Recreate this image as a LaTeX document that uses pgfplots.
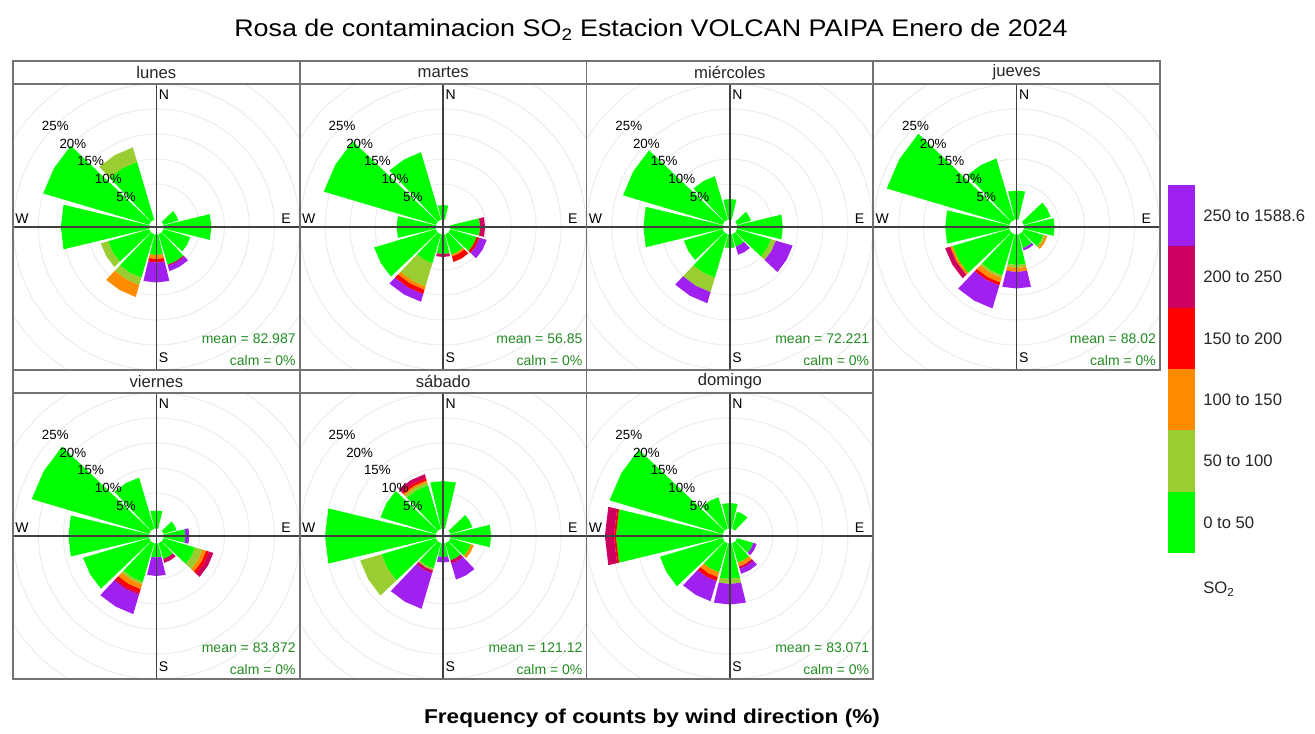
\documentclass[border=0pt]{standalone}
\usepackage{fontspec}
\setmainfont{Liberation Sans}
\newfontfamily\titlefont[FakeStretch=1.12]{Liberation Sans}
\newfontfamily\botfont[FakeStretch=1.13]{Liberation Sans}
\usepackage{pgfplots}
\pgfplotsset{compat=1.18}
\definecolor{ca}{HTML}{00FF00}
\definecolor{cb}{HTML}{9ACD32}
\definecolor{cc}{HTML}{FF8C00}
\definecolor{cd}{HTML}{FF0000}
\definecolor{ce}{HTML}{CD0060}
\definecolor{cf}{HTML}{A020F0}
\definecolor{meangreen}{HTML}{228B22}

% one stacked segment of a wedge: direction (deg from N, clockwise), from %, to %, colour
\newcommand{\seg}[4]{%
  \pgfmathsetmacro{\aA}{76.5-#1}%
  \pgfmathsetmacro{\aB}{90-#1}%
  \pgfmathsetmacro{\aC}{103.5-#1}%
  \pgfmathsetmacro{\rA}{(#2==0) ? 1.5 : 3.6+#2}%
  \pgfmathsetmacro{\rB}{3.6+#3}%
  \addplot[fill=#4, draw=none, data cs=polar] coordinates {(\aA,\rA) (\aB,\rA) (\aC,\rA) (\aC,\rB) (\aB,\rB) (\aA,\rB)};%
}
\newcommand{\panelbg}{%
  \draw[black!7, line width=0.8pt] (axis cs:0,0) circle[radius=8.6];
  \draw[black!7, line width=0.8pt] (axis cs:0,0) circle[radius=13.6];
  \draw[black!7, line width=0.8pt] (axis cs:0,0) circle[radius=18.6];
  \draw[black!7, line width=0.8pt] (axis cs:0,0) circle[radius=23.6];
  \draw[black!7, line width=0.8pt] (axis cs:0,0) circle[radius=28.6];
  \draw[black!7, line width=0.8pt] (axis cs:0,0) circle[radius=33.6];
}
\newcommand{\panelfg}[1]{%
  \draw[black!75, line width=1.3pt] (axis cs:0,-30) -- (axis cs:0,30);
  \draw[black!75, line width=1.3pt] (axis cs:-30,0) -- (axis cs:30,0);
  \node[font=\fontsize{10.5}{12}\selectfont, anchor=west, inner sep=1pt] at (axis cs:0.2,26.4) {N};
  \node[font=\fontsize{10.5}{12}\selectfont, anchor=west, inner sep=1pt] at (axis cs:0.2,-26.2) {S};
  \node[font=\fontsize{10.5}{12}\selectfont, anchor=south west, inner sep=1pt] at (axis cs:-28.5,0.3) {W};
  \node[font=\fontsize{10.5}{12}\selectfont, anchor=south east, inner sep=1pt] at (axis cs:27.2,0.3) {E};
  \node[font=\fontsize{10}{12}\selectfont] at (axis cs:-6.08,6.08) {5\%};
  \node[font=\fontsize{10}{12}\selectfont] at (axis cs:-9.62,9.62) {10\%};
  \node[font=\fontsize{10}{12}\selectfont] at (axis cs:-13.15,13.15) {15\%};
  \node[font=\fontsize{10}{12}\selectfont] at (axis cs:-16.69,16.69) {20\%};
  \node[font=\fontsize{10}{12}\selectfont] at (axis cs:-20.22,20.22) {25\%};
  \node[font=\fontsize{10.5}{12}\selectfont, text=meangreen, anchor=east, inner sep=0pt] at (axis cs:27.9,-22.3) {mean = #1};
  \node[font=\fontsize{10.5}{12}\selectfont, text=meangreen, anchor=east, inner sep=0pt] at (axis cs:27.9,-26.7) {calm = 0\%};
}
\pgfplotsset{rosepanel/.style={scale only axis, width=215.06pt, height=214.5pt,
  xmin=-28.675, xmax=28.675, ymin=-28.6, ymax=28.6, hide axis, anchor=south west}}
\newcommand{\panelframe}[3]{% left x, bottom Y, name
  \pgfmathsetmacro{\R}{#1+286.75}%
  \pgfmathsetmacro{\T}{#2+309}%
  \pgfmathsetmacro{\P}{#2+286}%
  \draw[black!55, line width=1.2pt] (#1,#2) rectangle (\R,\T);
  \draw[black!55, line width=1.2pt] (#1,\P) -- (\R,\P);
  \node[font=\fontsize{12.5}{14}\selectfont, text=black!85] at (#1+143.4,#2+297.5) {#3};
}

\begin{document}
\begin{tikzpicture}
\begin{scope}[x=0.75pt, y=0.75pt]
\useasboundingbox (0,0) rectangle (1315,733);
\end{scope}

% ---------------- lunes
\begin{axis}[rosepanel, at={({13*0.75pt},{363*0.75pt})}]
\panelbg
\seg{300}{0}{20}{ca}
\seg{330}{0}{10}{ca} \seg{330}{10}{13}{cb}
\seg{270}{0}{15.5}{ca}
\seg{240}{0}{6.5}{ca} \seg{240}{6.5}{8}{cb}
\seg{210}{0}{7}{ca} \seg{210}{7}{8.5}{cb} \seg{210}{8.5}{11}{cc}
\seg{180}{0}{2}{ca} \seg{180}{2}{2.8}{cc} \seg{180}{2.8}{3.5}{cd} \seg{180}{3.5}{7.5}{cf}
\seg{150}{0}{4.3}{ca} \seg{150}{4.3}{4.6}{ce} \seg{150}{4.6}{5.6}{cf}
\seg{120}{0}{3.5}{ca}
\seg{90}{0}{7.4}{ca}
\seg{60}{0}{1}{ca}
\panelfg{82.987}
\end{axis}

% ---------------- martes
\begin{axis}[rosepanel, at={({299.75*0.75pt},{363*0.75pt})}]
\panelbg
\seg{300}{0}{21.3}{ca}
\seg{330}{0}{12}{ca}
\seg{0}{0}{0.8}{ca}
\seg{270}{0}{5.7}{ca}
\seg{240}{0}{10.8}{ca}
\seg{210}{0}{4}{ca} \seg{210}{4}{8.8}{cb} \seg{210}{8.8}{9.5}{cc} \seg{210}{9.5}{10.4}{cd} \seg{210}{10.4}{12}{cf}
\seg{180}{0}{1.8}{ca} \seg{180}{1.8}{2.4}{ce}
\seg{150}{0}{2.2}{ca} \seg{150}{2.2}{2.6}{cc} \seg{150}{2.6}{3.7}{cd}
\seg{120}{0}{3.4}{ca} \seg{120}{3.4}{4}{cd} \seg{120}{4}{5.5}{cf}
\seg{90}{0}{3.8}{ca} \seg{90}{3.8}{4.8}{ce}
\panelfg{56.85}
\end{axis}

% ---------------- miercoles
\begin{axis}[rosepanel, at={({586.5*0.75pt},{363*0.75pt})}]
\panelbg
\seg{300}{0}{18.7}{ca}
\seg{330}{0}{7}{ca}
\seg{0}{0}{2}{ca}
\seg{270}{0}{13.7}{ca}
\seg{240}{0}{6}{ca}
\seg{210}{0}{7}{ca} \seg{210}{7}{10}{cb} \seg{210}{10}{12.3}{cf}
\seg{180}{0}{0.6}{ca}
\seg{150}{0}{0.5}{ca} \seg{150}{0.5}{2.2}{cf}
\seg{120}{0}{5}{ca} \seg{120}{5}{6}{cb} \seg{120}{6}{9.5}{cf}
\seg{90}{0}{7}{ca}
\seg{60}{0}{0.8}{ca}
\panelfg{72.221}
\end{axis}

% ---------------- jueves
\begin{axis}[rosepanel, at={({873.25*0.75pt},{363*0.75pt})}]
\panelbg
\seg{300}{0}{23.5}{ca}
\seg{330}{0}{10.7}{ca}
\seg{0}{0}{3.7}{ca}
\seg{270}{0}{10.7}{ca}
\seg{240}{0}{9.8}{ca} \seg{240}{9.8}{10.3}{cc} \seg{240}{10.3}{11.3}{ce}
\seg{210}{0}{6.5}{ca} \seg{210}{6.5}{7}{cb} \seg{210}{7}{8}{cc} \seg{210}{8}{8.6}{cd} \seg{210}{8.6}{13.4}{cf}
\seg{180}{0}{4}{ca} \seg{180}{4}{4.6}{cb} \seg{180}{4.6}{5.4}{cc} \seg{180}{5.4}{8.7}{cf}
\seg{150}{0}{0.8}{ca} \seg{150}{0.8}{1.3}{cf}
\seg{120}{0}{2}{ca} \seg{120}{2}{2.4}{cb} \seg{120}{2.4}{2.8}{cc}
\seg{90}{0}{4}{ca}
\seg{60}{0}{3.5}{ca}
\panelfg{88.02}
\end{axis}

% ---------------- viernes
\begin{axis}[rosepanel, at={({13*0.75pt},{54*0.75pt})}]
\panelbg
\seg{300}{0}{22.4}{ca}
\seg{330}{0}{8.6}{ca}
\seg{0}{0}{1.5}{ca}
\seg{270}{0}{14}{ca}
\seg{240}{0}{11.7}{ca}
\seg{210}{0}{6}{ca} \seg{210}{6}{6.5}{cb} \seg{210}{6.5}{7.5}{cc} \seg{210}{7.5}{8.3}{cd} \seg{210}{8.3}{8.7}{ce} \seg{210}{8.7}{12.7}{cf}
\seg{180}{0}{0.7}{ca} \seg{180}{0.7}{4.4}{cf}
\seg{150}{0}{1.2}{ca} \seg{150}{1.2}{2}{ce}
\seg{120}{0}{4.5}{ca} \seg{120}{4.5}{6}{cb} \seg{120}{6}{6.8}{cc} \seg{120}{6.8}{7.4}{cd} \seg{120}{7.4}{8.3}{ce}
\seg{90}{0}{2.2}{ca} \seg{90}{2.2}{3}{cf}
\seg{60}{0}{0.6}{ca}
\panelfg{83.872}
\end{axis}

% ---------------- sabado
\begin{axis}[rosepanel, at={({299.75*0.75pt},{54*0.75pt})}]
\panelbg
\seg{330}{0}{7}{ca} \seg{330}{7}{7.6}{cb} \seg{330}{7.6}{8}{cc} \seg{330}{8}{8.5}{cd} \seg{330}{8.5}{9.3}{ce}
\seg{300}{0}{9.5}{ca}
\seg{0}{0}{7.4}{ca}
\seg{270}{0}{20}{ca}
\seg{240}{0}{9.3}{ca} \seg{240}{9.3}{13.7}{cb}
\seg{210}{0}{3.2}{ca} \seg{210}{3.2}{3.6}{cb} \seg{210}{3.6}{4.2}{ce} \seg{210}{4.2}{11.6}{cf}
\seg{180}{0}{0.6}{ca} \seg{180}{0.6}{1.7}{cf}
\seg{150}{0}{1.5}{ca} \seg{150}{1.5}{2.2}{ce} \seg{150}{2.2}{5.5}{cf}
\seg{120}{0}{2.2}{ca} \seg{120}{2.2}{2.8}{cc}
\seg{90}{0}{6}{ca}
\seg{60}{0}{2.5}{ca}
\panelfg{121.12}
\end{axis}

% ---------------- domingo
\begin{axis}[rosepanel, at={({586.5*0.75pt},{54*0.75pt})}]
\panelbg
\seg{300}{0}{21.5}{ca}
\seg{330}{0}{4.5}{ca}
\seg{0}{0}{3}{ca}
\seg{30}{0}{1.5}{ca}
\seg{270}{0}{19.2}{ca} \seg{270}{19.2}{19.6}{cd} \seg{270}{19.6}{21.4}{ce}
\seg{240}{0}{11}{ca}
\seg{210}{0}{4}{ca} \seg{210}{4}{5}{cc} \seg{210}{5}{5.8}{cd} \seg{210}{5.8}{10}{cf}
\seg{180}{0}{5}{ca} \seg{180}{5}{6}{cb} \seg{180}{6}{10.1}{cf}
\seg{150}{0}{2}{ca} \seg{150}{2}{2.8}{cc} \seg{150}{2.8}{3.3}{ce} \seg{150}{3.3}{4.3}{cf}
\seg{120}{0}{1.3}{ca} \seg{120}{1.3}{2}{cf}
\panelfg{83.071}
\end{axis}

\begin{scope}[x=0.75pt, y=0.75pt]
% frames and strips
\panelframe{13}{363}{lunes}
\panelframe{299.75}{363}{martes}
\panelframe{586.5}{363}{miércoles}
\panelframe{873.25}{363}{jueves}
\panelframe{13}{54}{viernes}
\panelframe{299.75}{54}{sábado}
\panelframe{586.5}{54}{domingo}

% colour key
\fill[cf] (1168,548) rectangle (1195,486.67);
\fill[ce] (1168,486.67) rectangle (1195,425.33);
\fill[cd] (1168,425.33) rectangle (1195,364);
\fill[cc] (1168,364) rectangle (1195,302.67);
\fill[cb] (1168,302.67) rectangle (1195,241.33);
\fill[ca] (1168,241.33) rectangle (1195,180);
\begin{scope}[every node/.style={font=\fontsize{12.5}{14}\selectfont, anchor=west, text=black!85, inner sep=0pt}]
\node at (1203,517.3) {250 to 1588.6};
\node at (1203,456) {200 to 250};
\node at (1203,394.7) {150 to 200};
\node at (1203,333.3) {100 to 150};
\node at (1203,272) {50 to 100};
\node at (1203,210.7) {0 to 50};
\node at (1203,144) {SO\textsubscript{2}};
\end{scope}

% titles
\node[font=\titlefont\fontsize{18}{20}\selectfont] at (651,703) {Rosa de contaminacion SO\textsubscript{2} Estacion VOLCAN PAIPA Enero de 2024};
\node[font=\botfont\bfseries\fontsize{15}{17}\selectfont] at (652,15) {Frequency of counts by wind direction (\%)};
\end{scope}
\end{tikzpicture}
\end{document}
